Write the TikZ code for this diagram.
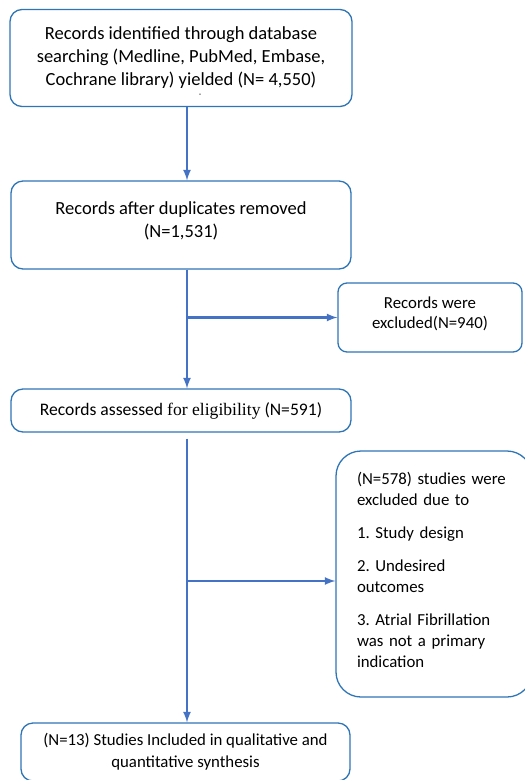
\documentclass[tikz,border=0pt]{standalone}
\usepackage{fontspec}
\setmainfont{Carlito}
\newfontfamily\serifpart{Liberation Serif}
\usetikzlibrary{positioning}
\frenchspacing
\definecolor{boxblue}{HTML}{2E75B6}
\definecolor{arrblue}{HTML}{4472C4}
\tikzset{
  stepbox/.style={draw=boxblue,line width=1.3pt,rounded corners=12pt,align=center,
    font=\fontsize{18.5}{23}\selectfont,inner sep=0pt},
  flow/.style={draw=arrblue,line width=2.6pt,-latex}
}
\begin{document}
\begin{tikzpicture}[x=1pt,y=1pt]
\useasboundingbox (0,0) rectangle (525,-780);

\node[stepbox,minimum width=342pt,minimum height=97pt] (search) at (181,-58)
  {Records identified through database\\searching (Medline, PubMed, Embase,\\Cochrane library) yielded (N= 4,550)\\[-19pt]\mbox{}};
\node[stepbox,minimum width=340pt,minimum height=88pt] (dupl) [below of=search,node distance=167pt]
  {Records after duplicates removed\\(N=1,531)\\[-12pt]\mbox{}};
\node[stepbox,minimum width=340pt,minimum height=43pt,font=\fontsize{17.6}{22}\selectfont] (assess) [below of=dupl,node distance=185.5pt]
  {Records assessed {\serifpart for eligibility} (N=591)};
\node[stepbox,minimum width=329pt,minimum height=58pt,font=\fontsize{16.8}{22}\selectfont] (incl) at (185.5,-752)
  {(N=13) Studies Included in qualitative and\\quantitative synthesis};

\node[stepbox,rounded corners=9pt,minimum width=184pt,minimum height=69pt,font=\fontsize{16.8}{20}\selectfont] (excl) at (430,-317.5)
  {Records were\\excluded(N=940)\\[-10pt]\mbox{}};
\node[stepbox,rounded corners=25pt,minimum width=188pt,minimum height=246pt,align=left,
  text width=154pt,inner xsep=21pt,font=\fontsize{16.8}{21}\selectfont] (studyexcl) at (434,-574)
  {(N=578) studies were\\excluded due to\\[12pt]1. Study design\\[12pt]2. Undesired\\outcomes\\[12pt]3. Atrial Fibrillation\\was not a primary\\indication\\[-12pt]\mbox{}};

% stray dot under the first box text
\fill[black!70] (search.south) ++(19,13) circle (0.8pt);

\coordinate (spine) at (187,0);
\coordinate (split) at (187,-581);

\draw[flow] (search.south -| spine) -- (dupl.north -| spine);
\draw[flow] (dupl.south -| spine) -- (assess.north -| spine);
\draw[flow] (excl.west -| spine) -- (excl.west);
\draw[flow,shorten <=6pt] (assess.south -| spine) -- (incl.north -| spine);
\draw[flow] (split) -- (split -| studyexcl.west);
\end{tikzpicture}
\end{document}
